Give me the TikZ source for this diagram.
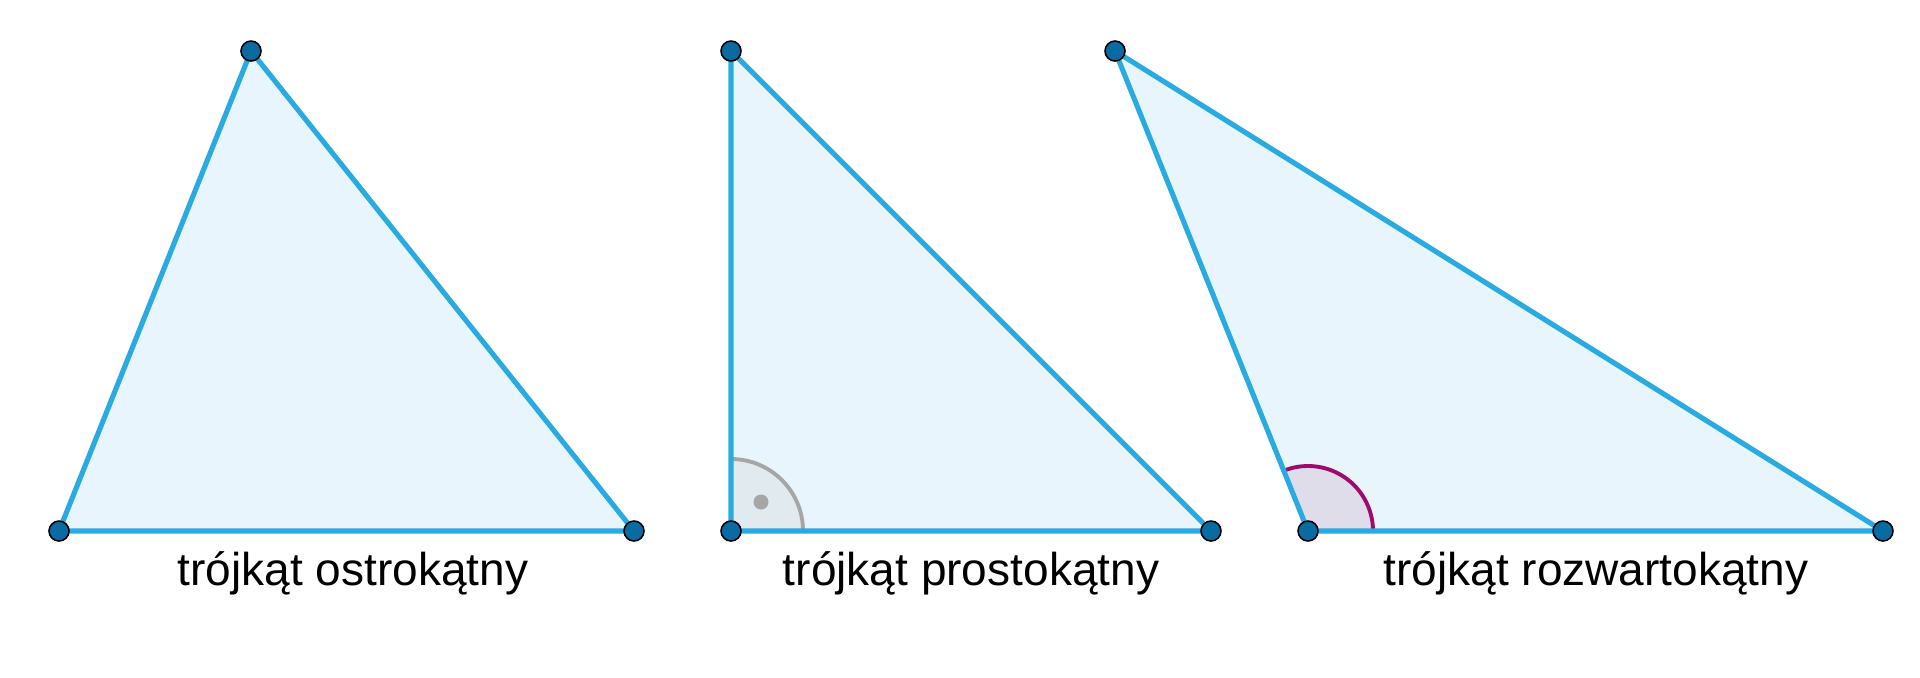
\documentclass[tikz,border=0pt]{standalone}
\usepackage{fontspec}
\setmainfont{Liberation Sans}
\usetikzlibrary{calc}
\definecolor{bok}{HTML}{29ABE2}
\definecolor{wnetrze}{HTML}{E8F5FC}
\definecolor{punkt}{HTML}{0A6BA3}
\definecolor{szary}{HTML}{A6A6A6}
\definecolor{prosty}{HTML}{E1EAEE}
\definecolor{rozwarty}{HTML}{9E0A6E}
\definecolor{lila}{HTML}{E0DDEA}
\begin{document}
\begin{tikzpicture}[line join=round, line cap=round, font=\fontsize{13.1}{15}\selectfont,
	bok/.style={draw=bok, line width=1.45pt},
	wierz/.style={circle, draw=black, line width=0.45pt, fill=punkt, inner sep=0pt, minimum size=0.2cm},
	podpis/.style={anchor=base}]
	\useasboundingbox (0,0) rectangle (19.2,6.77);
	\coordinate (A1) at (0.59,1.46); \coordinate (B1) at (6.34,1.46); \coordinate (C1) at (2.51,6.26);
	\coordinate (A2) at (7.31,1.46); \coordinate (B2) at (12.11,1.46); \coordinate (C2) at (7.31,6.26);
	\coordinate (A3) at (13.08,1.46); \coordinate (B3) at (18.83,1.46); \coordinate (C3) at (11.15,6.26);
	\foreach \t in {1,2,3} \fill[wnetrze] (A\t)--(B\t)--(C\t)--cycle;
	% katy
	\fill[prosty] (A2) -- ++(0.72,0) arc (0:90:0.72) -- cycle;
	\draw[szary, line width=1.1pt] ($(A2)+(0.72,0)$) arc (0:90:0.72);
	\fill[szary] ($(A2)+(0.30,0.29)$) circle (0.075);
	\fill[lila] (A3) -- ++(0.65,0) arc (0:111.9:0.65) -- cycle;
	\draw[rozwarty, line width=1.1pt] ($(A3)+(0.65,0)$) arc (0:111.9:0.65);
	% boki i wierzcholki
	\foreach \t in {1,2,3} {
		\draw[bok] (A\t)--(B\t)--(C\t)--cycle;
		\node[wierz] (a\t) at (A\t) {};
		\node[wierz] (b\t) at (B\t) {};
		\node[wierz] (c\t) at (C\t) {};
	}
	\node[podpis] (p1) at (3.53,0.92) {trójkąt ostrokątny};
	\node[podpis] (p2) at (9.71,0.92) {trójkąt prostokątny};
	\node[podpis] (p3) at (15.96,0.92) {trójkąt rozwartokątny};
\end{tikzpicture}
\end{document}
